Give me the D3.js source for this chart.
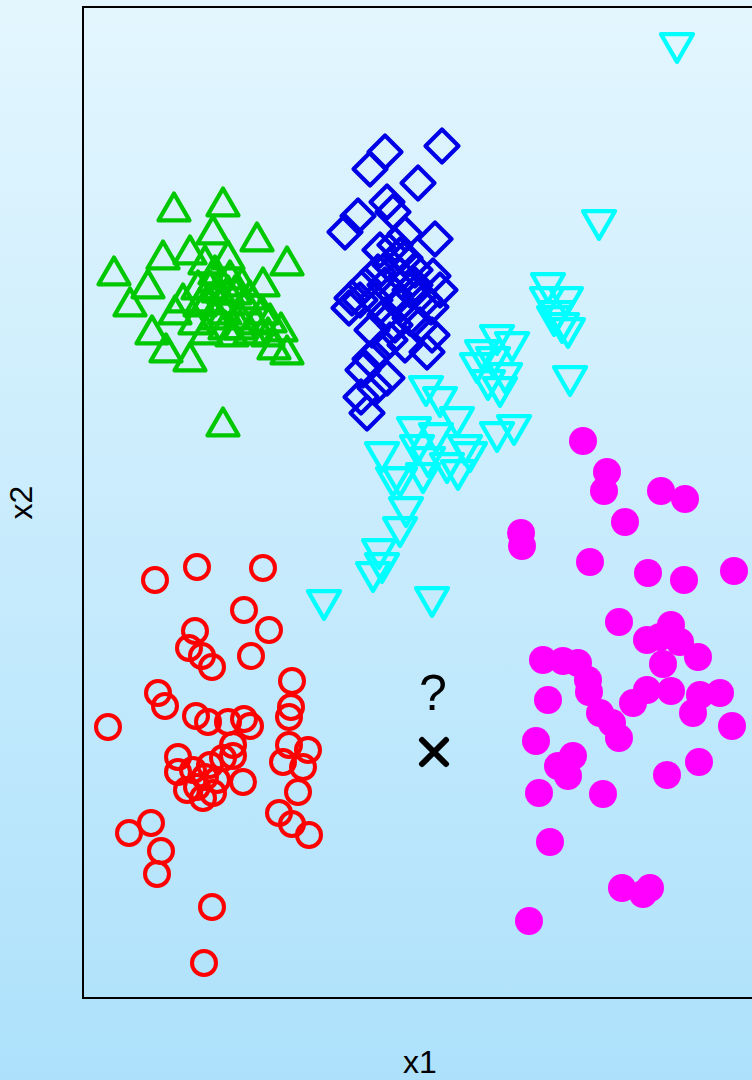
<!DOCTYPE html>
<html>
<head>
<meta charset="utf-8">
<script src="https://cdn.jsdelivr.net/npm/d3@7"></script>
<style>
html, body { margin: 0; padding: 0; }
body { width: 752px; height: 1080px; overflow: hidden; }
text { font-family: "Liberation Sans", Arial, sans-serif; }
</style>
</head>
<body>
<svg id="chart" width="752" height="1080"></svg>
<script>
// class 1 - red open circles
const redPts = [[72,418],[114,431],[180,430],[161,388],[186,368],[112,367],[106,350],[119,342],[129,331],[168,342],
  [209,317],[75,305],[82,292],[25,271],[113,282],[125,276],[145,276],[161,279],[167,272],[208,291],[206,281],
  [95,241],[95,226],[104,208],[120,200],[122,221],[134,218],[130,205],[140,240],[150,253],[150,242],[160,216],
  [206,253],[225,248],[200,236],[220,231],[215,206],[196,185],[209,174],[226,163],[68,175],[46,165],[78,147],
  [74,124],[129,91],[121,35],[110,228],[114,211],[127,233]];

// class 2 - green triangles
const greenPts = [[91,791],[140,796],[130,768],[174,761],[204,737],[31,727],[80,743],[107,748],[65,714],[47,696],
  [69,668],[83,650],[107,641],[204,648],[198,671],[180,716],[140,576],[100,700],[122,738],[132,728],[145,743],
  [147,723],[127,713],[152,708],[137,698],[117,696],[162,698],[132,683],[157,683],[142,673],[172,678],[112,678],
  [179,688],[123,668],[149,666],[167,668],[187,680],[135,710],[159,716],[142,688],[125,700],[167,703],[145,708],
  [115,713],[157,673],[92,688],[185,666],[191,653]];

// class 3 - blue diamonds
const bluePts = [[359,852],[302,846],[287,829],[335,815],[304,796],[310,786],[275,782],[262,766],[352,759],[322,764],
  [350,722],[269,700],[266,690],[348,691],[349,663],[344,646],[287,639],[280,628],[304,620],[278,601],[284,585],
  [297,748],[312,753],[322,740],[307,733],[295,726],[317,723],[332,728],[302,713],[327,708],[312,703],[337,703],
  [292,698],[317,693],[342,698],[302,683],[327,680],[312,673],[289,668],[337,673],[307,658],[322,653],[297,648],
  [332,713],[317,743],[282,713],[277,698],[357,708],[292,610]];

// class 4 - cyan down triangles
const cyanPts = [[594,950],[516,773],[465,710],[464,696],[483,696],[471,677],[479,670],[485,665],[474,682],[487,617],
  [343,607],[357,596],[399,643],[414,658],[429,651],[394,630],[405,613],[417,606],[431,568],[414,561],[374,576],
  [331,566],[353,560],[299,541],[310,516],[323,486],[317,466],[296,444],[299,430],[290,421],[241,393],[349,396],
  [345,536],[364,530],[375,523],[317,516],[340,520],[387,541],[334,548],[382,548],[410,636],[422,620]];

// class 5 - magenta filled circles
const magentaPts = [[500,557],[524,526],[521,507],[578,507],[602,499],[542,476],[438,465],[439,452],[507,436],[565,425],
  [601,418],[651,427],[536,376],[588,373],[564,358],[597,356],[615,341],[580,334],[460,338],[480,337],[495,335],
  [505,318],[506,306],[465,298],[517,285],[529,275],[536,260],[453,257],[550,295],[564,308],[588,307],[617,303],
  [637,305],[610,285],[649,272],[490,242],[475,232],[485,222],[456,205],[520,204],[584,223],[616,236],[467,156],
  [539,110],[560,104],[567,110],[446,77],[577,361]];

// the unknown point
const queryPt = [351, 246];

const xDomain = [0, 674], yDomain = [0, 991];
const xLabel = "x1", yLabel = "x2";

const svg = d3.select("#chart");
const x = d3.scaleLinear().domain(xDomain).range([83, 757]);
const y = d3.scaleLinear().domain(yDomain).range([998, 7]);

const defs = svg.append("defs");
const grad = defs.append("linearGradient").attr("id", "bg").attr("x1", 0).attr("y1", 0).attr("x2", 0).attr("y2", 1);
grad.append("stop").attr("offset", "0%").attr("stop-color", "#e3f6fe");
grad.append("stop").attr("offset", "100%").attr("stop-color", "#ade1fb");
svg.append("rect").attr("width", 752).attr("height", 1080).attr("fill", "url(#bg)");

// frame
svg.append("rect")
  .attr("x", x(xDomain[0])).attr("y", y(yDomain[1]))
  .attr("width", x(xDomain[1]) - x(xDomain[0]))
  .attr("height", y(yDomain[0]) - y(yDomain[1]))
  .attr("fill", "none").attr("stroke", "#000").attr("stroke-width", 2);

const up = (s) => { const h = s * 0.866; return `M0,${-h/2}L${s/2},${h/2}L${-s/2},${h/2}Z`; };
const down = (s) => { const h = s * 0.866; return `M0,${h/2}L${s/2},${-h/2}L${-s/2},${-h/2}Z`; };
const diamond = (r) => `M0,${-r}L${r},0L0,${r}L${-r},0Z`;

const g = svg.append("g");

g.selectAll(".red").data(redPts).enter().append("circle")
  .attr("cx", d => x(d[0])).attr("cy", d => y(d[1])).attr("r", 12)
  .attr("fill", "none").attr("stroke", "#ff0000").attr("stroke-width", 4);

g.selectAll(".green").data(greenPts).enter().append("path")
  .attr("d", up(31)).attr("transform", d => `translate(${x(d[0])},${y(d[1])})`)
  .attr("fill", "none").attr("stroke", "#00c800").attr("stroke-width", 4.2).attr("stroke-linejoin", "round");

g.selectAll(".blue").data(bluePts).enter().append("path")
  .attr("d", diamond(16.5)).attr("transform", d => `translate(${x(d[0])},${y(d[1])})`)
  .attr("fill", "none").attr("stroke", "#0000e6").attr("stroke-width", 4.2).attr("stroke-linejoin", "round");

g.selectAll(".cyan").data(cyanPts).enter().append("path")
  .attr("d", down(32)).attr("transform", d => `translate(${x(d[0])},${y(d[1])})`)
  .attr("fill", "none").attr("stroke", "#00ffff").attr("stroke-width", 4.2).attr("stroke-linejoin", "round");

g.selectAll(".magenta").data(magentaPts).enter().append("circle")
  .attr("cx", d => x(d[0])).attr("cy", d => y(d[1])).attr("r", 14)
  .attr("fill", "#ff00ff");

// query point
const q = svg.append("g").attr("transform", `translate(${x(queryPt[0])},${y(queryPt[1])})`);
q.append("path").attr("d", "M-12,-12L12,12M-12,12L12,-12")
  .attr("stroke", "#000").attr("stroke-width", 6).attr("stroke-linecap", "round");
q.append("text").attr("x", -1).attr("y", -42).attr("text-anchor", "middle")
  .attr("font-size", 50).attr("fill", "#000").text("?");

// axis labels
svg.append("text").attr("x", (x(xDomain[0]) + x(xDomain[1])) / 2).attr("y", 1073)
  .attr("text-anchor", "middle").attr("font-size", 32).attr("fill", "#000").text(xLabel);
svg.append("text")
  .attr("transform", `translate(32,${(y(yDomain[0]) + y(yDomain[1])) / 2}) rotate(-90)`)
  .attr("text-anchor", "middle").attr("font-size", 32).attr("fill", "#000").text(yLabel);
</script>
</body>
</html>
